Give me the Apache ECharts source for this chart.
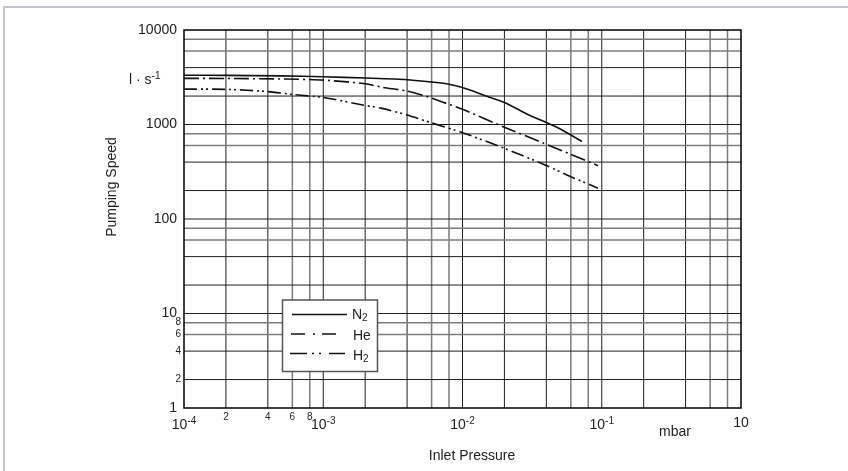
<!DOCTYPE html>
<html>
<head>
<meta charset="utf-8">
<script src="https://cdn.jsdelivr.net/npm/echarts/dist/echarts.min.js"></script>
<style>
html,body{margin:0;padding:0;background:#fff;}
#c{width:848px;height:471px;}
</style>
</head>
<body>
<div id="c"></div>
<script>
// ---- data ----
const n2Pressure = [1e-4, 2e-4, 5e-4, 1e-3, 2e-3, 4e-3, 6e-3, 8e-3, 1e-2, 1.5e-2, 2e-2, 3e-2, 4e-2, 5e-2, 7.2e-2];
const n2Speed    = [3320, 3310, 3270, 3200, 3100, 2980, 2810, 2670, 2460, 1990, 1710, 1260, 1050, 900, 660];

const hePressure = [1e-4, 2e-4, 5e-4, 1e-3, 2e-3, 2.6e-3, 4e-3, 5.2e-3, 7e-3, 1e-2, 2e-2, 3.8e-2, 6e-2, 9.4e-2];
const heSpeed    = [3080, 3070, 3030, 2950, 2700, 2490, 2260, 2040, 1750, 1450, 935, 637, 483, 367];

const h2Pressure = [1e-4, 2e-4, 4e-4, 6e-4, 1e-3, 2e-3, 2.6e-3, 4e-3, 6e-3, 1e-2, 2e-2, 4e-2, 6e-2, 9.4e-2];
const h2Speed    = [2370, 2355, 2230, 2080, 1930, 1590, 1490, 1260, 1040, 820, 560, 368, 280, 212];

const seriesNames = ['N2', 'He', 'H2'];

// grid multipliers inside each decade, and the minor tick labels
const gridMultipliers = [1, 2, 4, 6, 8];
const xDecades = [1e-4, 1e-3, 1e-2, 1e-1];
const yDecades = [1, 10, 100, 1000];
const xMinorLabelValues = [2e-4, 4e-4, 6e-4, 8e-4];
const xMinorLabels = ['2', '4', '6', '8'];
const yMinorLabelValues = [2, 4, 6, 8];
const yMinorLabels = ['2', '4', '6', '8'];

// ---- helpers ----
const zip = (a, b) => a.map((v, i) => [v, b[i]]);
const DARK = '#1e1e1e', GRAY = '#7c7c7c';
const FONT = 'Liberation Sans, Arial, sans-serif';
const X_MIN = 1e-4, X_MAX = 1, Y_MIN = 1, Y_MAX = 10000;

// grid line records: [value, multiplier, labelIndex]
const vGrid = [];
xDecades.forEach(d => gridMultipliers.forEach(m => {
  const v = d * m;
  if (m === 1 && d === X_MIN) return;
  const idx = xMinorLabelValues.findIndex(t => Math.abs(t - v) / v < 1e-9);
  vGrid.push([v, m, idx]);
}));
const hGrid = [];
yDecades.forEach(d => gridMultipliers.forEach(m => {
  const v = d * m;
  if (m === 1 && d === Y_MIN) return;
  const idx = yMinorLabelValues.findIndex(t => Math.abs(t - v) / v < 1e-9);
  hGrid.push([v, m, idx]);
}));

function gridStyle(m) {
  return (m === 6 || m === 8) ? {stroke: GRAY, lineWidth: 1.5} : {stroke: DARK, lineWidth: 1};
}

const chart = echarts.init(document.getElementById('c'), null, {renderer: 'canvas'});

function xFmt(v) {
  const e = Math.round(Math.log10(v));
  if (e === 0) return '{b|10}';
  return '{b|10}{s|' + e + '}';
}

const curveBase = {type: 'line', showSymbol: false, symbol: 'none', smooth: 0.25, z: 5, silent: true};

const option = {
  animation: false,
  backgroundColor: '#fff',
  grid: {left: 184, top: 30, width: 557, height: 378, show: false},
  xAxis: {
    type: 'log', logBase: 10, min: X_MIN, max: X_MAX,
    axisLine: {show: false}, axisTick: {show: false}, splitLine: {show: false}, minorTick: {show: false},
    axisLabel: {
      margin: 8, color: '#222', fontFamily: FONT, formatter: xFmt,
      rich: {b: {fontSize: 14, fontFamily: FONT, color: '#222'}, s: {fontSize: 10, fontFamily: FONT, color: '#222', padding: [0, 0, 9, 0]}}
    }
  },
  yAxis: {
    type: 'log', logBase: 10, min: Y_MIN, max: Y_MAX,
    axisLine: {show: false}, axisTick: {show: false}, splitLine: {show: false}, minorTick: {show: false},
    axisLabel: {margin: 7, fontSize: 14, color: '#222', fontFamily: FONT, formatter: v => String(Math.round(v))}
  },
  series: [
    {
      type: 'custom', z: 1, silent: true, clip: false,
      data: vGrid,
      renderItem: (params, api) => {
        const v = api.value(0), m = api.value(1), idx = api.value(2);
        const p1 = api.coord([v, Y_MIN]), p2 = api.coord([v, Y_MAX]);
        const children = [{type: 'line', shape: {x1: p1[0], y1: p1[1], x2: p2[0], y2: p2[1]}, style: gridStyle(m)}];
        if (idx >= 0) children.push({type: 'text', x: p1[0], y: p1[1] + 9,
          style: {text: xMinorLabels[idx], fontSize: 10, fontFamily: FONT, fill: '#222', align: 'center', verticalAlign: 'middle'}});
        return {type: 'group', children};
      }
    },
    {
      type: 'custom', z: 1, silent: true, clip: false,
      data: hGrid.map(r => [X_MIN, r[0], r[1], r[2]]),
      renderItem: (params, api) => {
        const v = api.value(1), m = api.value(2), idx = api.value(3);
        const p1 = api.coord([X_MIN, v]), p2 = api.coord([X_MAX, v]);
        const children = [{type: 'line', shape: {x1: p1[0], y1: p1[1], x2: p2[0], y2: p2[1]}, style: gridStyle(m)}];
        if (idx >= 0) children.push({type: 'text', x: p1[0] - 3, y: p1[1],
          style: {text: yMinorLabels[idx], fontSize: 10, fontFamily: FONT, fill: '#222', align: 'right', verticalAlign: 'middle'}});
        return {type: 'group', children};
      }
    },
    {
      // plot frame
      type: 'custom', z: 2, silent: true, clip: false,
      data: [[X_MIN, Y_MIN]],
      renderItem: (params, api) => {
        const a = api.coord([X_MIN, Y_MAX]), b = api.coord([X_MAX, Y_MIN]);
        return {type: 'rect', shape: {x: a[0], y: a[1], width: b[0] - a[0], height: b[1] - a[1]}, style: {fill: 'none', stroke: '#000', lineWidth: 1.5}};
      }
    },
    Object.assign({}, curveBase, {name: seriesNames[0], data: zip(n2Pressure, n2Speed), lineStyle: {color: '#111', width: 1.6, type: 'solid'}}),
    Object.assign({}, curveBase, {name: seriesNames[1], data: zip(hePressure, heSpeed), lineStyle: {color: '#111', width: 1.6, type: [15, 4, 2, 4]}}),
    Object.assign({}, curveBase, {name: seriesNames[2], data: zip(h2Pressure, h2Speed), lineStyle: {color: '#111', width: 1.6, type: [13, 4, 2, 3, 2, 4]}})
  ],
  graphic: [
    {type: 'rect', silent: true, shape: {x: 4, y: 7, width: 900, height: 500}, style: {fill: 'none', stroke: '#c4c4cc', lineWidth: 2}},
    {type: 'text', left: 129, top: 71, silent: true,
      style: {text: '{a|l · s}{s|-1}', rich: {a: {fontSize: 14, fontFamily: FONT, fill: '#222'}, s: {fontSize: 10, fontFamily: FONT, fill: '#222', padding: [0, 0, 9, 0]}}}},
    {type: 'text', silent: true, x: 112, y: 187, rotation: Math.PI / 2,
      style: {text: 'Pumping Speed', fontSize: 14, fontFamily: FONT, fill: '#222', align: 'center', verticalAlign: 'middle'}},
    {type: 'text', silent: true, x: 472, y: 456,
      style: {text: 'Inlet Pressure', fontSize: 14, fontFamily: FONT, fill: '#222', align: 'center', verticalAlign: 'middle'}},
    {type: 'text', silent: true, x: 675, y: 432,
      style: {text: 'mbar', fontSize: 14, fontFamily: FONT, fill: '#222', align: 'center', verticalAlign: 'middle'}},
    // legend box
    {type: 'rect', silent: true, z: 10, shape: {x: 282.5, y: 300, width: 95, height: 71.5}, style: {fill: '#fff', stroke: '#555', lineWidth: 1.5}},
    {type: 'line', silent: true, z: 11, shape: {x1: 292, y1: 314.5, x2: 347, y2: 314.5}, style: {stroke: '#111', lineWidth: 1.6}},
    {type: 'line', silent: true, z: 11, shape: {x1: 291, y1: 334, x2: 339, y2: 334}, style: {stroke: '#111', lineWidth: 1.6, lineDash: [14, 8, 2, 7]}},
    {type: 'line', silent: true, z: 11, shape: {x1: 290, y1: 353.5, x2: 345, y2: 353.5}, style: {stroke: '#111', lineWidth: 1.6, lineDash: [17, 5, 2, 5, 2, 8]}},
    {type: 'text', silent: true, z: 11, x: 352, y: 315,
      style: {text: '{a|N}{s|2}', verticalAlign: 'middle', rich: {a: {fontSize: 14, fontFamily: FONT, fill: '#222'}, s: {fontSize: 10, fontFamily: FONT, fill: '#222', padding: [7, 0, 0, 0]}}}},
    {type: 'text', silent: true, z: 11, x: 353, y: 336,
      style: {text: 'He', fontSize: 14, fontFamily: FONT, fill: '#222', verticalAlign: 'middle'}},
    {type: 'text', silent: true, z: 11, x: 353, y: 356,
      style: {text: '{a|H}{s|2}', verticalAlign: 'middle', rich: {a: {fontSize: 14, fontFamily: FONT, fill: '#222'}, s: {fontSize: 10, fontFamily: FONT, fill: '#222', padding: [7, 0, 0, 0]}}}}
  ]
};
chart.setOption(option);
</script>
</body>
</html>
